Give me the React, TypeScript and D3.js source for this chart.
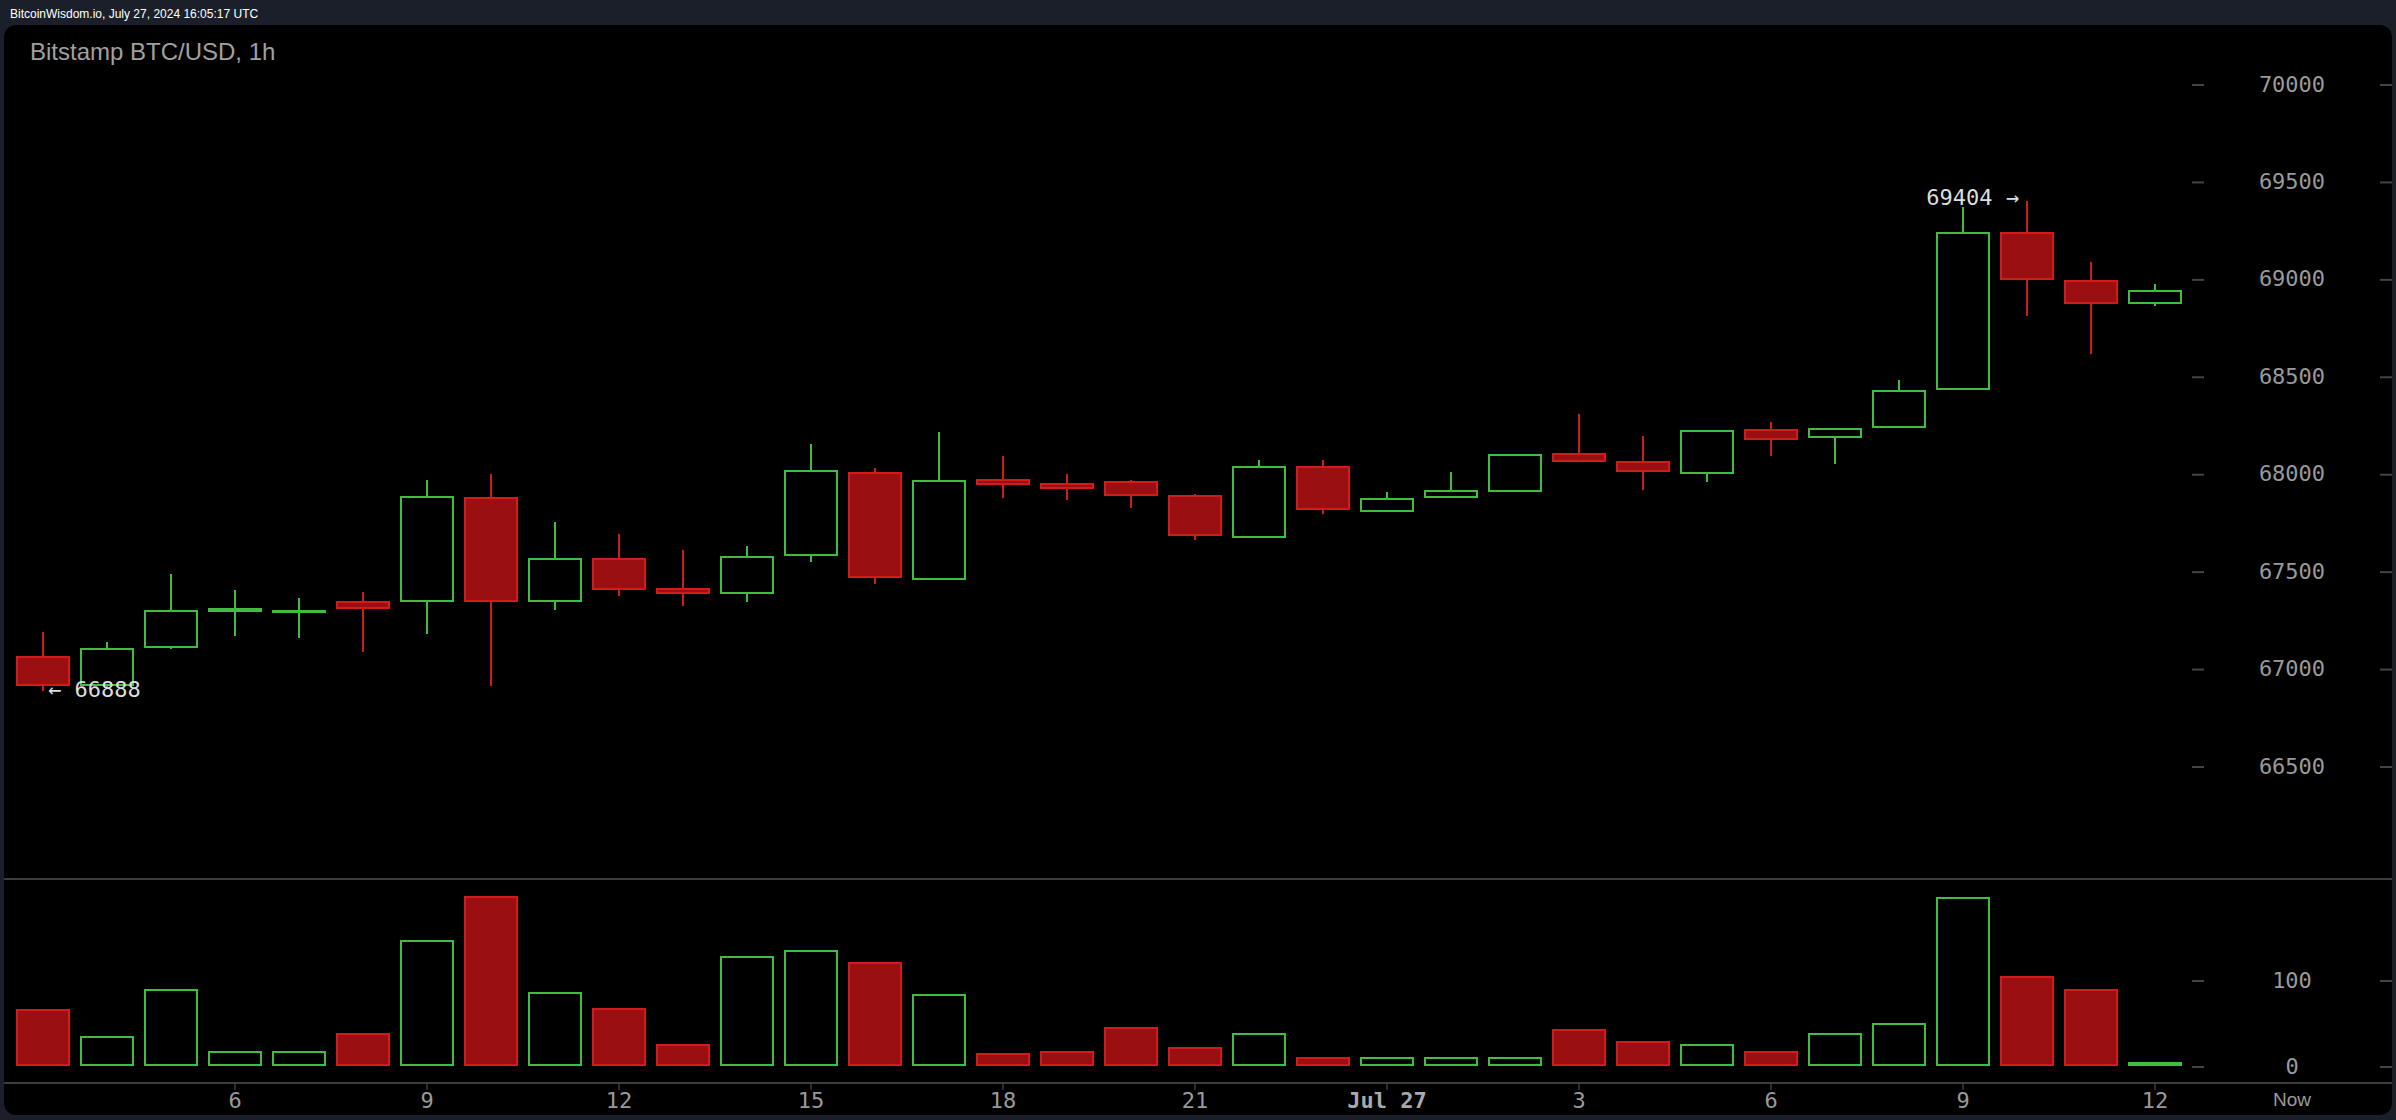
import * as d3 from "d3";

// hourly candles, Bitstamp BTC/USD, Jul 26 03:00 UTC -> Jul 27 12:00 UTC
const times = [
  "2024-07-26T03:00Z", "2024-07-26T04:00Z", "2024-07-26T05:00Z", "2024-07-26T06:00Z",
  "2024-07-26T07:00Z", "2024-07-26T08:00Z", "2024-07-26T09:00Z", "2024-07-26T10:00Z",
  "2024-07-26T11:00Z", "2024-07-26T12:00Z", "2024-07-26T13:00Z", "2024-07-26T14:00Z",
  "2024-07-26T15:00Z", "2024-07-26T16:00Z", "2024-07-26T17:00Z", "2024-07-26T18:00Z",
  "2024-07-26T19:00Z", "2024-07-26T20:00Z", "2024-07-26T21:00Z", "2024-07-26T22:00Z",
  "2024-07-26T23:00Z", "2024-07-27T00:00Z", "2024-07-27T01:00Z", "2024-07-27T02:00Z",
  "2024-07-27T03:00Z", "2024-07-27T04:00Z", "2024-07-27T05:00Z", "2024-07-27T06:00Z",
  "2024-07-27T07:00Z", "2024-07-27T08:00Z", "2024-07-27T09:00Z", "2024-07-27T10:00Z",
  "2024-07-27T11:00Z", "2024-07-27T12:00Z",
];
const opens = [
  67067, 66920, 67115, 67300, 67295, 67346, 67351, 67878, 67351, 67569, 67416, 67392,
  67587, 68011, 67464, 67973, 67953, 67961, 67890, 67679, 68041, 67813, 67884, 67915,
  68105, 68064, 68009, 68228, 68192, 68245, 68440, 69242, 68996, 68880,
];
const highs = [
  67192, 67140, 67491, 67407, 67366, 67397, 67973, 68004, 67758, 67696, 67614, 67635,
  68158, 68035, 68220, 68096, 68004, 67973, 67901, 68076, 68076, 67912, 68014, 68103,
  68312, 68199, 68226, 68271, 68236, 68486, 69375, 69404, 69090, 68977,
];
const lows = [
  66888, 66905, 67105, 67174, 67164, 67092, 67185, 66918, 67308, 67380, 67328, 67349,
  67553, 67441, 67460, 67882, 67872, 67831, 67667, 67679, 67800, 67813, 67884, 67915,
  68069, 67922, 67963, 68096, 68055, 68245, 68440, 68816, 68621, 68868,
];
const closes = [
  66920, 67108, 67303, 67311, 67301, 67318, 67888, 67351, 67569, 67412, 67392, 67580,
  68021, 67474, 67970, 67954, 67934, 67895, 67690, 68041, 67823, 67877, 67918, 68103,
  68069, 68018, 68226, 68182, 68236, 68431, 69242, 69003, 68880, 68945,
];
const volumes = [
  66, 35, 89, 17, 17, 38, 147, 198, 86, 68, 26, 128,
  135, 121, 84, 15, 17, 45, 22, 38, 10, 10, 10, 10,
  43, 29, 26, 17, 38, 50, 196, 105, 89, 5,
];
const priceTicks = [66500, 67000, 67500, 68000, 68500, 69000, 69500, 70000];
const volumeTicks = [0, 100];

const W = 2396;
const H = 1120;
const GREEN = "#40bd40";
const RED_LINE = "#d21c1c";
const RED_FILL = "#990f12";
const AXIS_TEXT = "#9a9a9a";
const GRID = "#3c3c3c";
const MONO = "'DejaVu Sans Mono', monospace";
const SANS = "'Liberation Sans', Arial, sans-serif";

const candles = times.map((t, i) => ({
  date: new Date(t),
  open: opens[i],
  high: highs[i],
  low: lows[i],
  close: closes[i],
  volume: volumes[i],
}));

export default function App() {
  // scales
  const x = d3
    .scaleUtc()
    .domain([candles[0].date, candles[candles.length - 1].date])
    .range([43, 2155]);
  const y = d3.scaleLinear().domain([66500, 70000]).range([767, 85]);
  const yVol = d3.scaleLinear().domain([0, 100]).range([1067, 981]);

  const bodyW = 52;
  const axisLabelX = 2292;

  // skip the 03:00 tick, it sits under the panel edge in the original
  const xTicks = x
    .ticks(d3.utcHour.every(3)!)
    .filter((t) => t > candles[0].date);
  const isDay = (t: Date) => t.getUTCHours() === 0;
  const fmtTick = (t: Date) =>
    isDay(t) ? d3.utcFormat("%b %d")(t) : String(t.getUTCHours());

  const hiIdx = d3.maxIndex(candles, (d) => d.high);
  const loIdx = d3.minIndex(candles, (d) => d.low);
  const hi = candles[hiIdx];
  const lo = candles[loIdx];

  return (
    <svg
      width={W}
      height={H}
      style={{ position: "absolute", left: 0, top: 0, display: "block" }}
    >
      <rect x={0} y={0} width={W} height={H} fill="#1b1f2a" />
      <text x={10} y={18} fill="#ffffff" fontFamily={SANS} fontSize={12} fontWeight={500}>
        BitcoinWisdom.io, July 27, 2024 16:05:17 UTC
      </text>

      {/* chart panel */}
      <rect x={4} y={25} width={2388} height={1090} rx={12} fill="#000" />
      <text x={30} y={60} fill="#a0a0a0" fontFamily={SANS} fontSize={24}>
        Bitstamp BTC/USD, 1h
      </text>

      {/* separators */}
      <line x1={4} x2={2392} y1={879} y2={879} stroke={GRID} strokeWidth={2} />
      <line x1={4} x2={2392} y1={1083} y2={1083} stroke={GRID} strokeWidth={2} />

      {/* price axis */}
      {priceTicks.map((v) => (
        <g key={v}>
          <line x1={2192} x2={2204} y1={y(v)} y2={y(v)} stroke="#444" strokeWidth={2} />
          <line x1={2380} x2={2392} y1={y(v)} y2={y(v)} stroke="#444" strokeWidth={2} />
          <text
            x={axisLabelX}
            y={y(v)}
            dy="0.3em"
            textAnchor="middle"
            fill={AXIS_TEXT}
            fontFamily={MONO}
            fontSize={22}
          >
            {v}
          </text>
        </g>
      ))}

      {/* volume axis */}
      {volumeTicks.map((v) => (
        <g key={v}>
          <line x1={2192} x2={2204} y1={yVol(v)} y2={yVol(v)} stroke="#444" strokeWidth={2} />
          <line x1={2380} x2={2392} y1={yVol(v)} y2={yVol(v)} stroke="#444" strokeWidth={2} />
          <text
            x={axisLabelX}
            y={yVol(v)}
            dy="0.3em"
            textAnchor="middle"
            fill={AXIS_TEXT}
            fontFamily={MONO}
            fontSize={22}
          >
            {v}
          </text>
        </g>
      ))}

      {/* time axis */}
      {xTicks.map((t) => (
        <g key={t.getTime()}>
          <line x1={x(t)} x2={x(t)} y1={1083} y2={1090} stroke="#555" strokeWidth={1} />
          <text
            x={x(t)}
            y={1108}
            textAnchor="middle"
            fill={isDay(t) ? "#aaaaaa" : AXIS_TEXT}
            fontWeight={isDay(t) ? "bold" : "normal"}
            fontFamily={MONO}
            fontSize={22}
          >
            {fmtTick(t)}
          </text>
        </g>
      ))}
      <text x={axisLabelX} y={1106} textAnchor="middle" fill={AXIS_TEXT} fontFamily={SANS} fontSize={19}>
        Now
      </text>

      {/* candles */}
      {candles.map((d) => {
        const cx = Math.round(x(d.date));
        const up = d.close >= d.open;
        const top = Math.round(y(Math.max(d.open, d.close)));
        const bot = Math.round(y(Math.min(d.open, d.close)));
        const color = up ? GREEN : RED_LINE;
        return (
          <g key={d.date.getTime()}>
            <line
              x1={cx}
              x2={cx}
              y1={Math.round(y(d.high))}
              y2={Math.round(y(d.low))}
              stroke={color}
              strokeWidth={2}
            />
            <rect
              x={cx - bodyW / 2}
              y={top}
              width={bodyW}
              height={Math.max(bot - top, 1)}
              fill={up ? "#000" : RED_FILL}
              stroke={color}
              strokeWidth={2}
            />
          </g>
        );
      })}

      {/* volume bars */}
      {candles.map((d) => {
        const cx = Math.round(x(d.date));
        const up = d.close >= d.open;
        const top = Math.round(yVol(d.volume));
        const base = Math.round(yVol(0)) - 2;
        return (
          <rect
            key={d.date.getTime()}
            x={cx - bodyW / 2}
            y={top}
            width={bodyW}
            height={Math.max(base - top, 1)}
            fill={up ? (d.volume < 8 ? GREEN : "#000") : RED_FILL}
            stroke={up ? GREEN : RED_LINE}
            strokeWidth={2}
          />
        );
      })}

      {/* high / low markers */}
      <text
        x={x(hi.date) - 8}
        y={y(hi.high) - 4}
        dy="0.35em"
        textAnchor="end"
        fill="#dddddd"
        fontFamily={MONO}
        fontSize={22}
      >
        {`${hi.high} →`}
      </text>
      <text
        x={x(lo.date) + 5}
        y={y(lo.low) - 2}
        dy="0.35em"
        fill="#dddddd"
        fontFamily={MONO}
        fontSize={22}
      >
        {`← ${lo.low}`}
      </text>
    </svg>
  );
}
